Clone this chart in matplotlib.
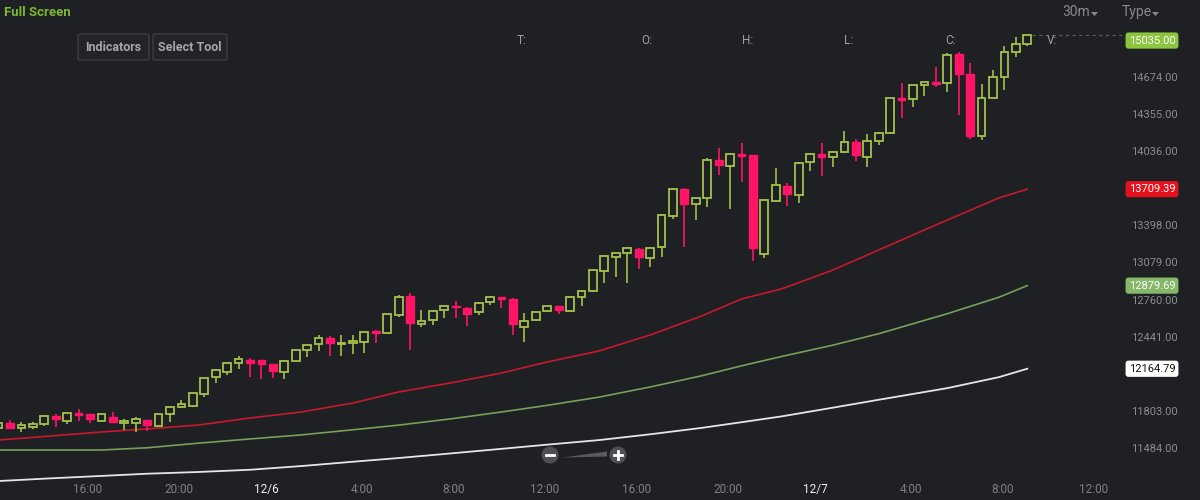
import matplotlib
matplotlib.use("Agg")
import matplotlib.pyplot as plt
import matplotlib.transforms as mtrans
from matplotlib.patches import Rectangle, FancyBboxPatch, Circle, Polygon
import numpy as np
import pandas as pd

plt.rcParams['font.family'] = ['Roboto', 'DejaVu Sans']

# ---------------- data (30m candles, 12/5 12:00 -> 12/7 09:00) ----------------
times = pd.date_range('2017-12-05 12:00', periods=91, freq='30min')

opens = [11655, 11698, 11653, 11667, 11690, 11758, 11718, 11782, 11773, 11718,
         11752, 11696, 11701, 11724, 11672, 11773, 11833, 11844, 11948, 12091,
         12139, 12212, 12240, 12237, 12203, 12139, 12231, 12326, 12375, 12427,
         12378, 12384, 12397, 12487, 12475, 12627, 12790, 12550, 12584, 12670,
         12707, 12685, 12655, 12741, 12784, 12762, 12521, 12584, 12661, 12704,
         12664, 12784, 12836, 13005, 13123, 13158, 13192, 13120, 13209, 13478,
         13711, 13579, 13636, 13960, 13908, 14012, 14003, 13152, 13610, 13739,
         13659, 13940, 14009, 13983, 14026, 14115, 13983, 14126, 14190, 14493,
         14482, 14602, 14631, 14620, 14869, 14697, 14166, 14496, 14676, 14886,
         14955]
highs = [11715, 11724, 11709, 11709, 11767, 11773, 11787, 11816, 11773, 11776,
         11790, 11730, 11752, 11724, 11776, 11836, 11896, 11956, 12085, 12160,
         12219, 12274, 12255, 12240, 12206, 12236, 12326, 12369, 12455, 12449,
         12455, 12455, 12485, 12498, 12636, 12799, 12819, 12670, 12666, 12709,
         12750, 12698, 12741, 12788, 12786, 12771, 12642, 12653, 12707, 12707,
         12790, 12842, 13020, 13143, 13163, 13209, 13201, 13209, 13493, 13717,
         13715, 13636, 13975, 14061, 14018, 14109, 14007, 13622, 13894, 13765,
         13945, 14018, 14109, 14037, 14212, 14141, 14181, 14198, 14496, 14620,
         14609, 14631, 14762, 14878, 14886, 14792, 14611, 14734, 14940, 15015,
         15035]
lows = [11638, 11647, 11623, 11644, 11672, 11667, 11690, 11718, 11696, 11715,
        11704, 11638, 11623, 11632, 11661, 11709, 11830, 11838, 11924, 12040,
        12111, 12160, 12091, 12079, 12083, 12074, 12229, 12263, 12317, 12274,
        12274, 12292, 12303, 12384, 12470, 12607, 12326, 12521, 12541, 12599,
        12599, 12532, 12627, 12713, 12685, 12455, 12397, 12578, 12655, 12636,
        12655, 12704, 12827, 12900, 12956, 12900, 13020, 13042, 13123, 13450,
        13214, 13444, 13558, 13831, 13536, 13773, 13094, 13115, 13601, 13564,
        13593, 13868, 13822, 13897, 14023, 13954, 13902, 14089, 14184, 14319,
        14413, 14510, 14590, 14547, 14347, 14138, 14132, 14491, 14562, 14848,
        14943]
closes = [11698, 11655, 11681, 11690, 11758, 11735, 11782, 11764, 11735, 11773,
          11704, 11718, 11730, 11678, 11773, 11833, 11859, 11954, 12083, 12154,
          12217, 12249, 12217, 12206, 12148, 12234, 12326, 12369, 12427, 12384,
          12390, 12403, 12483, 12470, 12633, 12784, 12561, 12578, 12661, 12704,
          12693, 12636, 12728, 12784, 12762, 12550, 12578, 12650, 12704, 12670,
          12784, 12833, 13014, 13134, 13158, 13201, 13123, 13201, 13487, 13708,
          13582, 13631, 13960, 13914, 14009, 13994, 13206, 13616, 13745, 13668,
          13937, 14009, 13988, 14031, 14112, 14003, 14123, 14195, 14491, 14476,
          14605, 14628, 14616, 14863, 14700, 14166, 14491, 14671, 14886, 14958,
          15035]

# moving averages sampled along the curve (candle position, price)
ma_pos = [-1, 3.5, 8, 12, 16.5, 21, 25.5, 30, 34, 38.5, 43, 47, 51.5, 56,
          60.5, 64, 67.5, 72, 76, 82, 86.5, 89]
ma_red = [11552, 11586, 11621, 11647, 11681, 11741, 11793, 11870, 11965, 12042,
          12128, 12223, 12317, 12455, 12618, 12765, 12851, 13014, 13186, 13444,
          13633, 13709.39]
ma_green = [11466, 11466, 11466, 11485, 11525, 11561, 11596, 11640, 11680, 11733,
            11793, 11850, 11920, 12008, 12104, 12190, 12270, 12368, 12466, 12638,
            12779, 12879.69]
ma_white = [11199, 11222, 11243, 11262, 11277, 11296, 11328, 11365, 11397, 11436,
            11476, 11512, 11551, 11601, 11656, 11705, 11755, 11830, 11898, 11998,
            12092, 12164.79]

y_ticks = [11484, 11803, 12122, 12441, 12760, 13079, 13398, 13717, 14036, 14355,
           14674, 14993]

# ---------------- style ----------------
BG = '#1f2024'
UP = '#a3c24a'
DOWN = '#ff1466'
GRAY = '#8c8c8c'

fig = plt.figure(figsize=(12, 5), dpi=100, facecolor=BG)
ax = fig.add_axes([0, 0, 1125 / 1200, 1])
ax.set_facecolor(BG)
for s in ax.spines.values():
    s.set_visible(False)

xpos = np.arange(-1, len(opens) - 1)
ax.set_xlim(-0.875, 97.55)
ax.set_ylim(11036, 15336)

# moving averages
ax.plot(ma_pos, ma_white, color='#e6e6e6', lw=1.3, zorder=1)
ax.plot(ma_pos, ma_green, color='#76a05c', lw=1.2, zorder=1)
ax.plot(ma_pos, ma_red, color='#c8182c', lw=1.2, zorder=1)

# candles
w = 0.68
for x, o, h, l, c in zip(xpos, opens, highs, lows, closes):
    up = c >= o
    col = UP if up else DOWN
    lo_b, hi_b = min(o, c), max(o, c)
    if hi_b - lo_b < 10:
        mid = (hi_b + lo_b) / 2
        lo_b, hi_b = mid - 6, mid + 6
    ax.vlines(x, l, lo_b, color=col, lw=1.2, zorder=2)
    ax.vlines(x, hi_b, h, color=col, lw=1.2, zorder=2)
    if up:
        ax.add_patch(Rectangle((x - w / 2, lo_b), w, hi_b - lo_b, facecolor=BG,
                               edgecolor=col, lw=1.3, zorder=3))
    else:
        ax.add_patch(Rectangle((x - w / 2, lo_b), w, hi_b - lo_b, facecolor=col,
                               edgecolor=col, lw=1.0, zorder=3))

# last price dashed line
ax.hlines(closes[-1], xpos[-1] + 0.4, 97.55, colors='#5c5d62', lw=0.8,
          linestyles=(0, (3, 3)), zorder=1)

# price tags that cover axis labels
tags = [(closes[-1], '#8cc63f', 'white', -4),
        (ma_red[-1], '#e5121d', 'white', 0),
        (ma_green[-1], '#86b86a', 'white', 0),
        (ma_white[-1], 'white', '#111111', 0)]

# y axis (right); labels hidden under a price tag are left blank
def covered(v):
    return any(abs(v - t[0]) < 60 for t in tags)

ax.yaxis.tick_right()
ax.set_yticks(y_ticks)
ax.set_yticklabels(['' if covered(v) else f"{v:.2f}" for v in y_ticks])
ax.tick_params(axis='y', length=0, pad=4, labelsize=8, labelcolor=GRAY)

# x axis (labels inside the bottom)
tick_pos, tick_lab, is_date = [], [], []
for i, t in zip(xpos, times):
    if t.minute == 0 and t.hour % 4 == 0 and i >= 0:
        if t.hour == 0:
            tick_pos.append(i - 0.55)
            tick_lab.append(f"{t.month}/{t.day}")
            is_date.append(True)
        else:
            tick_pos.append(i - 0.2)
            tick_lab.append(f"{t.hour}:00")
            is_date.append(False)
last_t = times[-1]
k = 1
while True:
    t = last_t + pd.Timedelta(minutes=30 * k)
    p = xpos[-1] + k
    if p > 97:
        break
    if t.minute == 0 and t.hour % 4 == 0:
        tick_pos.append(p - 0.2)
        tick_lab.append(f"{t.hour}:00")
        is_date.append(False)
    k += 1
ax.set_xticks(tick_pos)
ax.set_xticklabels(tick_lab)
ax.tick_params(axis='x', length=0, direction='in', pad=-12, labelsize=8.5,
               labelcolor='#808080')
for lab, d in zip(ax.get_xticklabels(), is_date):
    if d:
        lab.set_color('#f0f0f0')

# price labels on the right
blend = mtrans.blended_transform_factory(ax.transAxes, ax.transData)
for v, fc, tc, dy in tags:
    ax.annotate(f"{v:.2f}", xy=(1152 / 1125, v), xycoords=blend,
                xytext=(0, dy), textcoords='offset points',
                ha='center', va='center', fontsize=8, color=tc,
                annotation_clip=False, zorder=10,
                bbox=dict(boxstyle='round,pad=0.28,rounding_size=0.25', fc=fc, ec='none'))

# ---------------- UI overlay ----------------
ui = fig.add_axes([0, 0, 1, 1], facecolor='none')
ui.set_xlim(0, 1200)
ui.set_ylim(500, 0)
ui.axis('off')

ui.text(4, 12, 'Full Screen', color='#7cb82f', fontsize=9.5, fontweight='bold',
        va='center', ha='left')
for x0, x1, lab in [(78, 149, 'Indicators'), (153, 227, 'Select Tool')]:
    ui.add_patch(FancyBboxPatch((x0, 34), x1 - x0, 26,
                                boxstyle='round,pad=0,rounding_size=2',
                                fc='#232428', ec='#3c3d41', lw=1))
    ui.text((x0 + x1) / 2, 47.5, lab, color='#a6a6a6', fontsize=9,
            fontweight='bold', ha='center', va='center')

ui.text(1090, 12, '30m', color='#8a8a8a', fontsize=10, ha='right', va='center')
ui.add_patch(Polygon([(1091, 12), (1098, 12), (1094.5, 16)], closed=True,
                     fc='#8a8a8a', ec='none'))
ui.text(1122, 12, 'Type', color='#8a8a8a', fontsize=10, ha='left', va='center')
ui.add_patch(Polygon([(1152, 12), (1159, 12), (1155.5, 16)], closed=True,
                     fc='#8a8a8a', ec='none'))

for x, lab in [(522, 'T:'), (647, 'O:'), (748, 'H:'), (849, 'L:'), (951, 'C:'),
               (1052, 'V:')]:
    ui.text(x, 41, lab, color='#a0a0a0', fontsize=8.5, ha='center', va='center')

# zoom control
ui.add_patch(Circle((550, 455), 8.5, fc='#4e4f54', ec='none'))
ui.add_patch(Circle((618, 455), 8.5, fc='#4e4f54', ec='none'))
ui.add_patch(Polygon([(563, 457.5), (607, 451.5), (607, 456.5)], closed=True,
                     fc='#5a5b60', ec='none'))
ui.plot([546, 554], [455, 455], color='white', lw=2)
ui.plot([614, 622], [455, 455], color='white', lw=2)
ui.plot([618, 618], [451, 459], color='white', lw=2)

fig.savefig('out.png', dpi=100, facecolor=BG)
